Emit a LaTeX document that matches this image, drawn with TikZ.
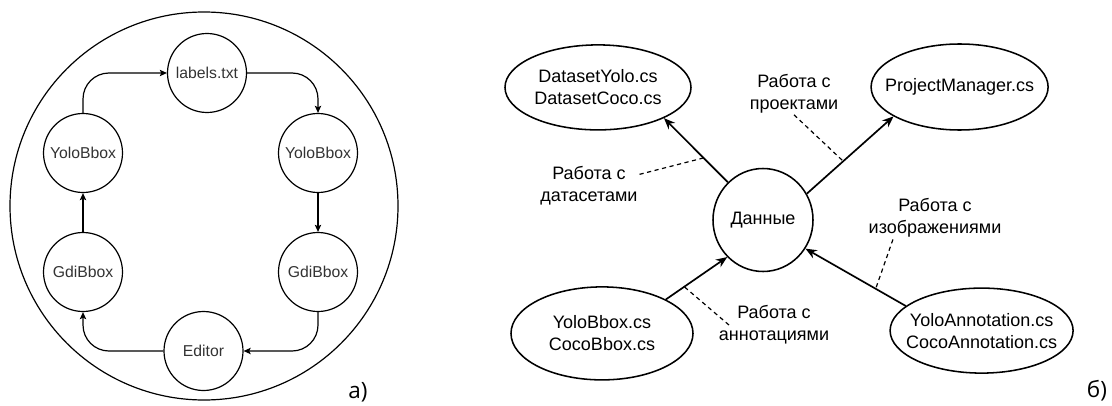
\documentclass[tikz,border=0pt]{standalone}
\usepackage{fontspec}
\setmainfont{Liberation Sans}
\newfontfamily\markfont{Open Sans}
\usetikzlibrary{calc,positioning,shapes,arrows.meta}

\begin{document}
\begin{tikzpicture}[line width=0.85pt]
\tikzstyle{vertex}=[circle, draw, inner sep=0pt, minimum size=1.975cm, text=black!80, font=\fontsize{11.2pt}{13pt}\selectfont]
\tikzstyle{file}=[ellipse, draw, line width=1.1pt, align=center, inner xsep=-0.35cm, inner ysep=0pt, font=\fontsize{12.8pt}{15.6pt}\selectfont]
\tikzstyle{note}=[align=center, inner sep=1pt, font=\fontsize{12.8pt}{15.6pt}\selectfont]
\tikzstyle{flow}=[-{Stealth[length=5pt,width=4.5pt,inset=1pt]}, rounded corners=0.65cm]
\tikzstyle{link}=[-{Stealth[length=8pt,width=6.5pt]}, line width=1.2pt]
\tikzstyle{leader}=[dash pattern=on 3pt off 2.5pt, line width=0.85pt]
\tikzstyle{caption}=[inner sep=0pt, font=\markfont\fontsize{16pt}{18pt}\selectfont]
\useasboundingbox (0,0) rectangle (27.8,10.125);

% a)
\node[circle, draw, minimum size=9.7cm] (ring) at (5.1,4.975) {};
\node[vertex] (lab) at (5.175,8.3) {labels.txt};
\node[vertex] (yl) at (2.075,6.3) {YoloBbox};
\node[vertex] (yr) at (7.95,6.3) {YoloBbox};
\node[vertex] (gl) at (2.075,3.325) {GdiBbox};
\node[vertex] (gr) at (7.95,3.325) {GdiBbox};
\node[vertex] (ed) at (5.0875,1.35) {Editor};
\foreach \i/\j in {yl.north/lab.west, gr.south/ed.east}{\draw[flow] (\i) |- (\j);}
\foreach \i/\j in {lab.east/yr.north, ed.west/gl.south}{\draw[flow] (\i) -| (\j);}
\foreach \i/\j in {yr/gr, gl/yl}{\draw[flow] (\i) -- (\j);}
\node[caption] (capa) at (8.95,0.33) {a)};

% b)
\node[file, minimum width=4.65cm, minimum height=2.125cm] (dsy) at (14.95,7.94) {DatasetYolo.cs\\DatasetCoco.cs};
\node[file, minimum width=4.425cm, minimum height=2.15cm] (pm) at (23.99,7.95) {ProjectManager.cs};
\node[file, minimum width=2.5cm, minimum height=2.575cm] (dat) at (19.075,4.625) {Данные};
\node[file, minimum width=4.55cm, minimum height=2.325cm] (ybb) at (15.05,1.79) {YoloBbox.cs\\CocoBbox.cs};
\node[file, minimum width=4.575cm, minimum height=2.125cm] (yan) at (24.54,1.86) {YoloAnnotation.cs\\CocoAnnotation.cs};
\foreach \i/\j in {dat.133/dsy.335, dat.31/pm.204, ybb.28/dat.226, yan.162/dat.326}{\draw[link] (\i) -- (\j);}

\node[note] (ld) at (14.725,5.475) {Работа с\\датасетами};
\node[note] (lp) at (19.85,7.79) {Работа с\\проектами};
\node[note] (li) at (23.375,4.675) {Работа с\\изображениями};
\node[note] (la) at (19.35,2.0) {Работа с\\аннотациями};
\draw[leader] (ld.13) -- ($(dat.133)!0.38!(dsy.335)$);
\draw[leader] (lp.south) -- ($(dat.31)!0.42!(pm.204)$);
\draw[leader] (li.207) -- ($(yan.162)!0.3!(dat.326)$);
\draw[leader] ($(la.west)+(0.3,0)$) -- ($(ybb.28)!0.3!(dat.226)$);
\node[caption] (capb) at (27.425,0.35) {б)};
\end{tikzpicture}
\end{document}
